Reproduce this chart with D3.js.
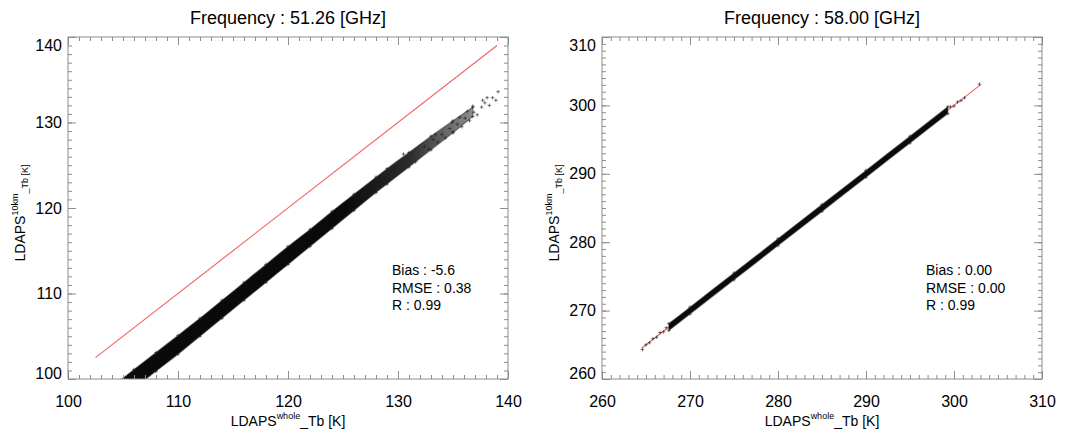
<!DOCTYPE html>
<html lang="en">
<head>
<meta charset="UTF-8">
<title>LDAPS whole vs 10km Tb</title>
<script src="https://cdn.jsdelivr.net/npm/d3@7"></script>
<style>
  body { margin: 0; background: #fff; }
  svg { font-family: "Liberation Sans", Arial, Helvetica, sans-serif; }
</style>
</head>
<body>
<svg id="chart" width="1075" height="436"></svg>
<script>
  // ---- 51.26 GHz ----
  // dense part of the scatter: lower / upper edge of the cloud read at each x
  const bandX51  = [104.6, 106,   108,   110,   112,   114,   116,   118,   120,   122,   124,   126,   128];
  const bandLo51 = [ 97.3,  98.9, 100.9, 102.9, 105.0, 107.1, 109.2, 111.3, 113.4, 115.5, 117.6, 119.7, 121.8];
  const bandHi51 = [ 99.7, 101.1, 103.1, 105.1, 107.1, 109.2, 111.3, 113.4, 115.5, 117.5, 119.6, 121.6, 123.6];
  // thinner, speckled part of the cloud
  const tailX51  = [129,   131,   133,   135,   136.8];
  const tailLo51 = [122.8, 124.8, 126.8, 128.8, 130.7];
  const tailHi51 = [124.6, 126.5, 128.4, 130.2, 131.8];
  // sparse points at the warm end
  const sparseX51 = [132.4, 132.8, 133.2, 133.6, 134.0, 134.3, 134.7, 135.0, 135.4, 135.8, 136.1, 136.5, 136.9, 137.2, 137.6, 137.9, 138.3, 138.6, 138.9, 139.1, 134.9, 136.3, 137.7, 133.4, 135.6, 136.8, 138.1, 130.5, 131.6];
  const sparseY51 = [127.2, 126.9, 128.0, 127.7, 128.6, 128.2, 129.3, 128.9, 129.8, 129.5, 130.5, 130.2, 131.2, 130.9, 131.8, 132.3, 132.0, 132.9, 132.6, 133.6, 130.0, 131.3, 132.6, 128.6, 130.6, 131.9, 132.9, 126.3, 125.4];
  const fitX51 = [102.5, 139.0];
  const stats51 = ["Bias : -5.6", "RMSE : 0.38", "R : 0.99"];
  const ticks51 = [100, 110, 120, 130, 140];

  // ---- 58.00 GHz ----
  const bandX58  = [267.6, 270,   275,   280,   285,   290,   295,   299.3];
  const bandLo58 = [267.1, 269.5, 274.5, 279.5, 284.5, 289.5, 294.5, 298.8];
  const bandHi58 = [268.1, 270.5, 275.5, 280.5, 285.5, 290.5, 295.5, 299.8];
  const sparseX58 = [264.6, 265.0, 265.4, 265.8, 266.2, 266.6, 267.0, 267.3, 299.6, 300.0, 300.4, 300.8, 301.2, 302.9];
  const sparseY58 = [264.3, 265.0, 265.3, 265.9, 266.1, 266.8, 266.9, 267.5, 299.8, 299.9, 300.5, 300.7, 301.1, 303.1];
  const fitX58 = [264.5, 303.0];
  const stats58 = ["Bias : 0.00", "RMSE : 0.00", "R : 0.99"];
  const ticks58 = [260, 270, 280, 290, 300, 310];

  const titles = ["Frequency : 51.26 [GHz]", "Frequency : 58.00 [GHz]"];

  const svg = d3.select("#chart");
  const defs = svg.append("defs");
  const plotTop = 37, plotBottom = 379;
  const frameCol = "#8c8c8c";

  const panels = [
    {left: 68, right: 508, ticks: ticks51, title: titles[0], stats: stats51,
     bx: bandX51, lo: bandLo51, hi: bandHi51, sx: sparseX51, sy: sparseY51, fit: fitX51,
     tx: tailX51, tlo: tailLo51, thi: tailHi51, fade: [125, 137.5]},
    {left: 602, right: 1042, ticks: ticks58, title: titles[1], stats: stats58,
     bx: bandX58, lo: bandLo58, hi: bandHi58, sx: sparseX58, sy: sparseY58, fit: fitX58,
     tx: [], tlo: [], thi: [], fade: null}
  ];

  panels.forEach((p, i) => drawPanel(p, i));

  function drawPanel(p, i) {
    const dom = d3.extent(p.ticks);
    const x = d3.scaleLinear().domain(dom).range([p.left, p.right]);
    const y = d3.scaleLinear().domain(dom).range([plotBottom, plotTop]);
    const minor = d3.range(dom[0], dom[1] + 0.5, 1);
    const g = svg.append("g");

    defs.append("clipPath").attr("id", "clip" + i)
      .append("rect")
      .attr("x", p.left).attr("y", plotTop)
      .attr("width", p.right - p.left).attr("height", plotBottom - plotTop);

    let fill = "#0a0a0a";
    if (p.fade) {
      const grad = defs.append("linearGradient").attr("id", "fade" + i)
        .attr("gradientUnits", "userSpaceOnUse")
        .attr("x1", x(p.fade[0])).attr("x2", x(p.fade[1]))
        .attr("y1", 0).attr("y2", 0);
      grad.append("stop").attr("offset", 0).attr("stop-color", "#0a0a0a").attr("stop-opacity", 1);
      grad.append("stop").attr("offset", 0.5).attr("stop-color", "#161616").attr("stop-opacity", 0.9);
      grad.append("stop").attr("offset", 1).attr("stop-color", "#333").attr("stop-opacity", 0.5);
      fill = `url(#fade${i})`;
    }

    const plot = g.append("g").attr("clip-path", `url(#clip${i})`);

    // 1:1 line
    plot.append("line")
      .attr("x1", x(p.fit[0])).attr("y1", y(p.fit[0]))
      .attr("x2", x(p.fit[1])).attr("y2", y(p.fit[1]))
      .attr("stroke", "#f26060").attr("stroke-width", 1.1);

    const area = d3.area().x(d => x(d.x)).y0(d => y(d.lo)).y1(d => y(d.hi)).curve(d3.curveMonotoneX);

    // cloud of points (dense part + thinning tail)
    const rows = p.bx.map((v, k) => ({x: v, lo: p.lo[k], hi: p.hi[k]}))
      .concat(p.tx.map((v, k) => ({x: v, lo: p.tlo[k], hi: p.thi[k]})));
    plot.append("path")
      .datum(rows)
      .attr("d", area)
      .attr("fill", fill)
      .attr("stroke", "#333")
      .attr("stroke-opacity", 0.5)
      .attr("stroke-width", 1.2);

    // plus symbols along the cloud edges and at the sparse ends
    const pts = [];
    rows.forEach(d => { pts.push([d.x, d.lo]); pts.push([d.x, d.hi]); });
    p.sx.forEach((v, k) => pts.push([v, p.sy[k]]));
    plot.append("g")
      .selectAll("path")
      .data(pts)
      .join("path")
      .attr("d", d => {
        const cx = x(d[0]), cy = y(d[1]), s = 1.8;
        return `M${cx - s},${cy}H${cx + s}M${cx},${cy - s}V${cy + s}`;
      })
      .attr("stroke", "#222")
      .attr("stroke-opacity", 0.75)
      .attr("stroke-width", 0.8);

    // frame
    g.append("rect")
      .attr("x", p.left).attr("y", plotTop)
      .attr("width", p.right - p.left).attr("height", plotBottom - plotTop)
      .attr("fill", "none").attr("stroke", frameCol).attr("stroke-width", 1);

    // ticks on all four sides, pointing inward
    const sides = [
      [d3.axisBottom(x), `translate(0,${plotBottom})`],
      [d3.axisTop(x), `translate(0,${plotTop})`],
      [d3.axisLeft(y), `translate(${p.left},0)`],
      [d3.axisRight(y), `translate(${p.right},0)`]
    ];
    sides.forEach(([ax, tr]) => {
      g.append("g").attr("transform", tr)
        .call(ax.tickValues(minor).tickSizeInner(-4).tickSizeOuter(0).tickFormat(""))
        .call(a => a.select(".domain").remove())
        .call(a => a.selectAll("line").attr("stroke", frameCol));
      g.append("g").attr("transform", tr)
        .call(ax.tickValues(p.ticks).tickSizeInner(-8).tickSizeOuter(0).tickFormat(""))
        .call(a => a.select(".domain").remove())
        .call(a => a.selectAll("line").attr("stroke", frameCol));
    });

    // tick labels
    g.append("g").attr("transform", `translate(0,${plotBottom})`)
      .call(d3.axisBottom(x).tickValues(p.ticks).tickSize(0).tickPadding(17).tickFormat(d3.format("d")))
      .call(a => a.select(".domain").remove())
      .call(a => a.selectAll("text").attr("font-size", 16).attr("fill", "#000")
        .attr("font-family", "Liberation Sans, Arial, sans-serif"));

    g.append("g").attr("transform", `translate(${p.left},0)`)
      .call(d3.axisLeft(y).tickValues(p.ticks).tickSize(0).tickPadding(6).tickFormat(d3.format("d")))
      .call(a => a.select(".domain").remove())
      .call(a => a.selectAll("text").attr("font-size", 16).attr("fill", "#000")
        .attr("font-family", "Liberation Sans, Arial, sans-serif")
        .attr("y", d => d === dom[1] ? 8 : d === dom[0] ? -6 : 0));

    const cx = (p.left + p.right) / 2;

    // title
    g.append("text")
      .attr("x", cx).attr("y", 24)
      .attr("text-anchor", "middle")
      .attr("font-size", 18)
      .text(p.title);

    // x axis title
    const xt = g.append("text")
      .attr("x", cx).attr("y", 426)
      .attr("text-anchor", "middle")
      .attr("font-size", 14);
    xt.append("tspan").text("LDAPS");
    xt.append("tspan").attr("font-size", 9).attr("dy", -7).text("whole");
    xt.append("tspan").attr("dy", 7).text("_Tb [K]");

    // y axis title
    const yt = g.append("text")
      .attr("transform", `translate(${p.left - 43},${(plotTop + plotBottom) / 2 + 5}) rotate(-90)`)
      .attr("text-anchor", "middle")
      .attr("font-size", 14);
    yt.append("tspan").text("LDAPS");
    yt.append("tspan").attr("font-size", 9).attr("dy", -7).text("10km");
    yt.append("tspan").attr("font-size", 9).attr("dy", 10).text("_Tb [K]");

    // statistics
    g.append("g")
      .selectAll("text")
      .data(p.stats)
      .join("text")
      .attr("x", p.left + 324)
      .attr("y", (d, k) => 275 + k * 17.5)
      .attr("font-size", 14)
      .text(d => d);
  }
</script>
</body>
</html>
